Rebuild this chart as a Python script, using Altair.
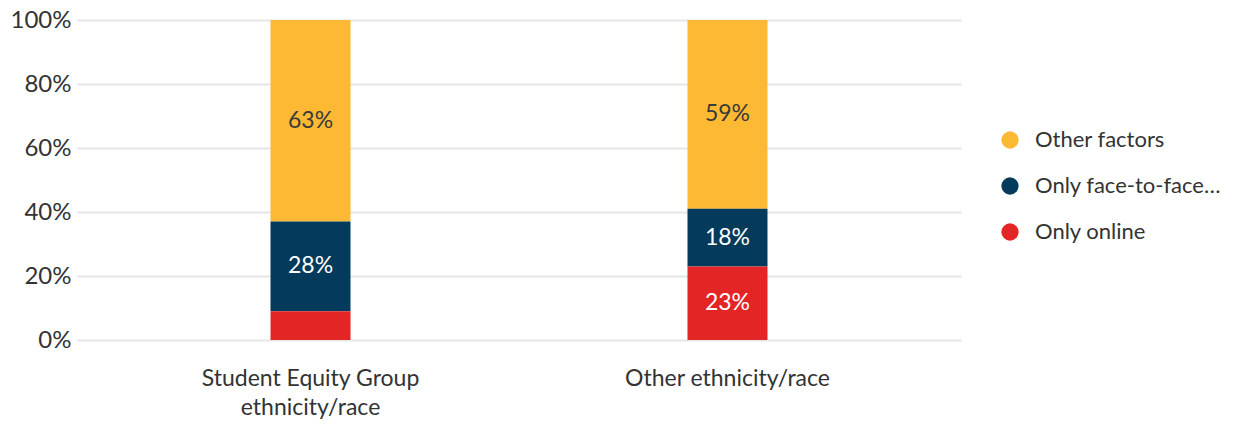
import altair as alt
import pandas as pd

groups = ["Student Equity Group\nethnicity/race", "Other ethnicity/race"]
categories = ["Other factors", "Only face-to-face…", "Only online"]
stack_order = [2, 1, 0]  # bottom = Only online
colors = ["#FDB933", "#043A5B", "#E32526"]
label_colors = ["#3a3a3a", "#ffffff", "#ffffff"]
other_factors = [63, 59]
face_to_face = [28, 18]
online = [9, 23]

series = [other_factors, face_to_face, online]
rows = []
for ci, cat in enumerate(categories):
    for gi, g in enumerate(groups):
        rows.append({"group": g, "category": cat, "value": series[ci][gi],
                     "ord": stack_order[ci], "tcolor": label_colors[ci]})
df = pd.DataFrame(rows)

FONT = "Lato"

base = alt.Chart(df).encode(
    x=alt.X("group:N", sort=groups, title=None,
            scale=alt.Scale(paddingInner=0.808, paddingOuter=0.464),
            axis=alt.Axis(labelExpr="split(datum.label, '\\n')", labelAngle=0,
                          labelFontSize=23, labelColor="#333333", labelFont=FONT,
                          labelLineHeight=29, labelPadding=27, ticks=False,
                          domain=False, grid=False, labelBaseline="top",
                          labelLimit=500)),
)

bars = base.mark_bar(size=80).encode(
    y=alt.Y("value:Q", stack="zero", title=None,
            scale=alt.Scale(domain=[0, 100]),
            axis=alt.Axis(values=[0, 20, 40, 60, 80, 100], labelExpr="datum.value + '%'",
                          labelFontSize=24, labelColor="#333333", labelFont=FONT,
                          ticks=False, domain=False, labelPadding=6,
                          gridColor="#e6e6e6", gridWidth=2)),
    color=alt.Color("category:N",
                    scale=alt.Scale(domain=categories, range=colors),
                    legend=alt.Legend(title=None, orient="none", legendX=922, legendY=109,
                                      symbolType="circle", symbolSize=300,
                                      labelFontSize=22, labelFont=FONT, labelColor="#333333",
                                      rowPadding=24, labelOffset=14, labelLimit=300)),
    order=alt.Order("ord:Q", sort="ascending"),
)

labels = base.transform_stack(
    stack="value", groupby=["group"], as_=["v0", "v1"],
    sort=[alt.SortField("ord", order="ascending")]
).transform_calculate(
    mid="(datum.v0 + datum.v1) / 2",
    lab="datum.value + '%'"
).transform_filter(
    "datum.value >= 10"
).mark_text(fontSize=23, font=FONT).encode(
    y=alt.Y("mid:Q"),
    text=alt.Text("lab:N"),
    color=alt.Color("tcolor:N", scale=None),
)

chart = alt.layer(bars, labels).properties(
    width=884, height=320,
    padding={"left": 2, "top": 0, "right": 5, "bottom": 5},
).configure_view(stroke=None)

chart.save("out.html", embed_options={"renderer": "svg", "actions": False})
